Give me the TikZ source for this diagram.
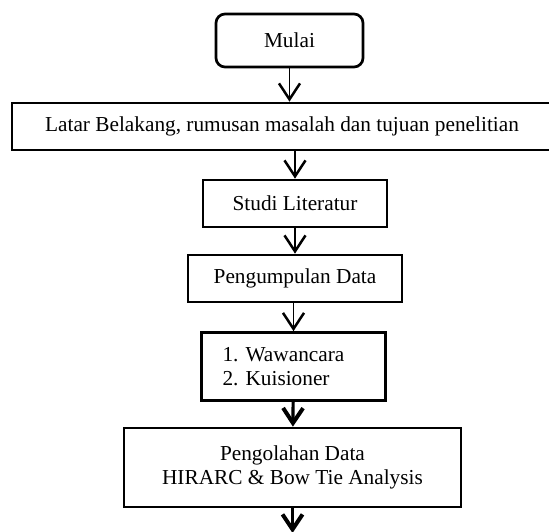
\documentclass[tikz,border=0pt]{standalone}
\usepackage{fontspec}
\setmainfont{Liberation Serif}
\usetikzlibrary{arrows.meta}
\newcommand{\flowfont}{\fontsize{21.3}{24.5}\selectfont\frenchspacing}
\tikzset{
flowbox/.style={
  draw, line width=2.7pt, inner sep=0pt, font=\flowfont},
startbox/.style={flowbox, rounded corners=9pt},
flowline/.style={line width=1.5pt,
  -{Straight Barb[length=16pt, width=21pt, line width=1pt 1]}},
boldline/.style={line width=3.2pt,
  -{Straight Barb[length=15pt, width=20pt, line width=0.8pt 1]}}}
\begin{document}
\begin{tikzpicture}[x=1pt, y=-1pt]
\useasboundingbox (0,0) rectangle (549,532);
\node[startbox, minimum width=147pt, minimum height=53pt] (mulai) at (289.5,40.5) {Mulai};
\node[flowbox, minimum width=540pt, minimum height=47pt] (latar) at (282,126.5)
  {Latar Belakang, rumusan masalah dan tujuan penelitian};
\node[flowbox, minimum width=184pt, minimum height=47pt] (studi) at (295,203.5) {Studi Literatur};
\node[flowbox, minimum width=214pt, minimum height=47pt] (kumpul) at (295,278.5) {Pengumpulan Data};
\node[flowbox, minimum width=184pt, minimum height=68pt,
  text width=142pt, align=left] (metode) at (293.5,366.5) {1. Wawancara\\2. Kuisioner};
\node[flowbox, minimum width=337pt, minimum height=79pt, align=center] (olah) at (292.5,467.5)
  {Pengolahan Data\\HIRARC \& Bow Tie Analysis};
\coordinate (lanjut) at (292.5,533);

% connectors
\draw[flowline] (mulai.south) -- (mulai.south |- latar.north);
\draw[flowline] (latar.south -| studi.north) -- (studi.north);
\draw[flowline] (studi) -- (kumpul);
\draw[flowline] (kumpul.south -| metode.north) -- (metode.north);
\draw[boldline] (metode) -- (olah);
\draw[boldline] (olah) -- (lanjut);
\end{tikzpicture}
\end{document}
